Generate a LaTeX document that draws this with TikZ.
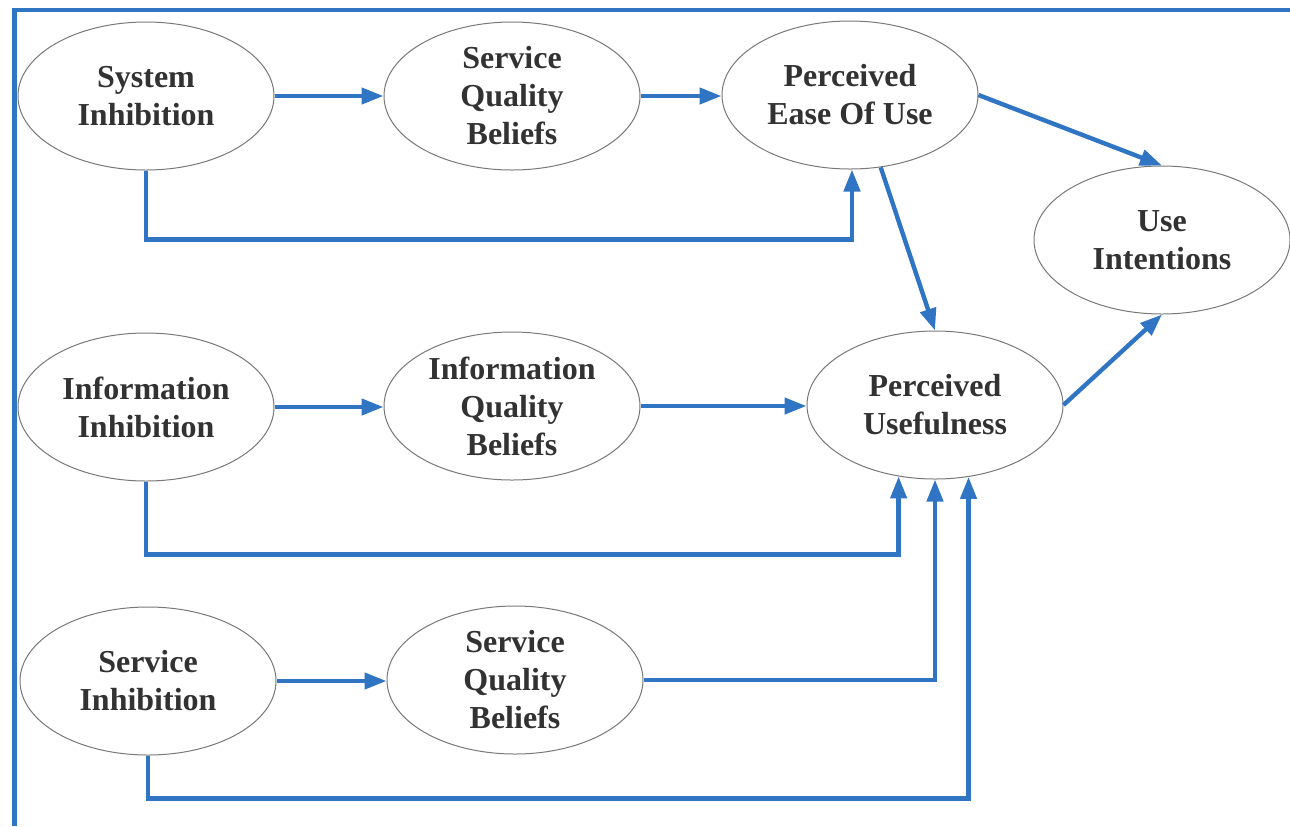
\documentclass[tikz,border=0pt]{standalone}
\usepackage{fontspec}
\setmainfont{Liberation Serif}
\usetikzlibrary{shapes.geometric,arrows.meta,calc}
\definecolor{linkblue}{RGB}{48,116,196}
\definecolor{rimgray}{RGB}{120,120,120}
\definecolor{inkgray}{RGB}{50,50,50}
\begin{document}
\begin{tikzpicture}[x=0.5pt,y=-0.5pt,
  construct/.style={ellipse,draw=rimgray,line width=0.5pt,inner sep=0pt,
    minimum width=128pt,minimum height=74pt,align=center,text=inkgray,
    font=\fontsize{16pt}{19pt}\selectfont\bfseries},
  link/.style={draw=linkblue,line width=2.2pt,
    -{Triangle[length=11pt,width=8pt]}},
  frame/.style={draw=linkblue,line width=2.4pt}]
\useasboundingbox (0,0) rectangle (1290,826);
% outer frame
\draw[frame] (1290,10) -- (14.5,10) -- (14.5,826);

% constructs
\node[construct] (sys)  at (146,96)   {System\\Inhibition};
\node[construct] (sqb)  at (512,96)   {Service\\Quality\\Beliefs};
\node[construct] (peou) at (850,95)   {Perceived\\Ease Of Use};
\node[construct] (ui)   at (1162,240) {Use\\Intentions};
\node[construct] (ii)   at (146,407)  {Information\\Inhibition};
\node[construct] (iqb)  at (512,406)  {Information\\Quality\\Beliefs};
\node[construct] (pu)   at (935,405)  {Perceived\\Usefulness};
\node[construct] (si)   at (148,681)  {Service\\Inhibition};
\node[construct] (sqb2) at (515,680)  {Service\\Quality\\Beliefs};

% paths (horizontal links kept level with their source)
\draw[link] (sys.east) -- (sys.east -| sqb.west);
\draw[link] (sqb.east) -- (sqb.east -| peou.west);
\draw[link] (sys.south) -- ++(0,69) -| ([xshift=1pt]peou.south);
\draw[link] (peou.east) -- (ui.north);
\draw[link] (peou.-67) -- (pu.north);
\draw[link] (pu.east) -- (ui.south);

\draw[link] (ii.east) -- (ii.east -| iqb.west);
\draw[link] (iqb.east) -- (iqb.east -| pu.west);
\draw[link] (ii.south) -- ++(0,73) -| (pu.-117.5);

\draw[link] (si.east) -- (si.east -| sqb2.west);
\draw[link] (sqb2.east) -| (pu.south);
\draw[link] (si.south) -- ++(0,43) -| (pu.-65);
\end{tikzpicture}
\end{document}
